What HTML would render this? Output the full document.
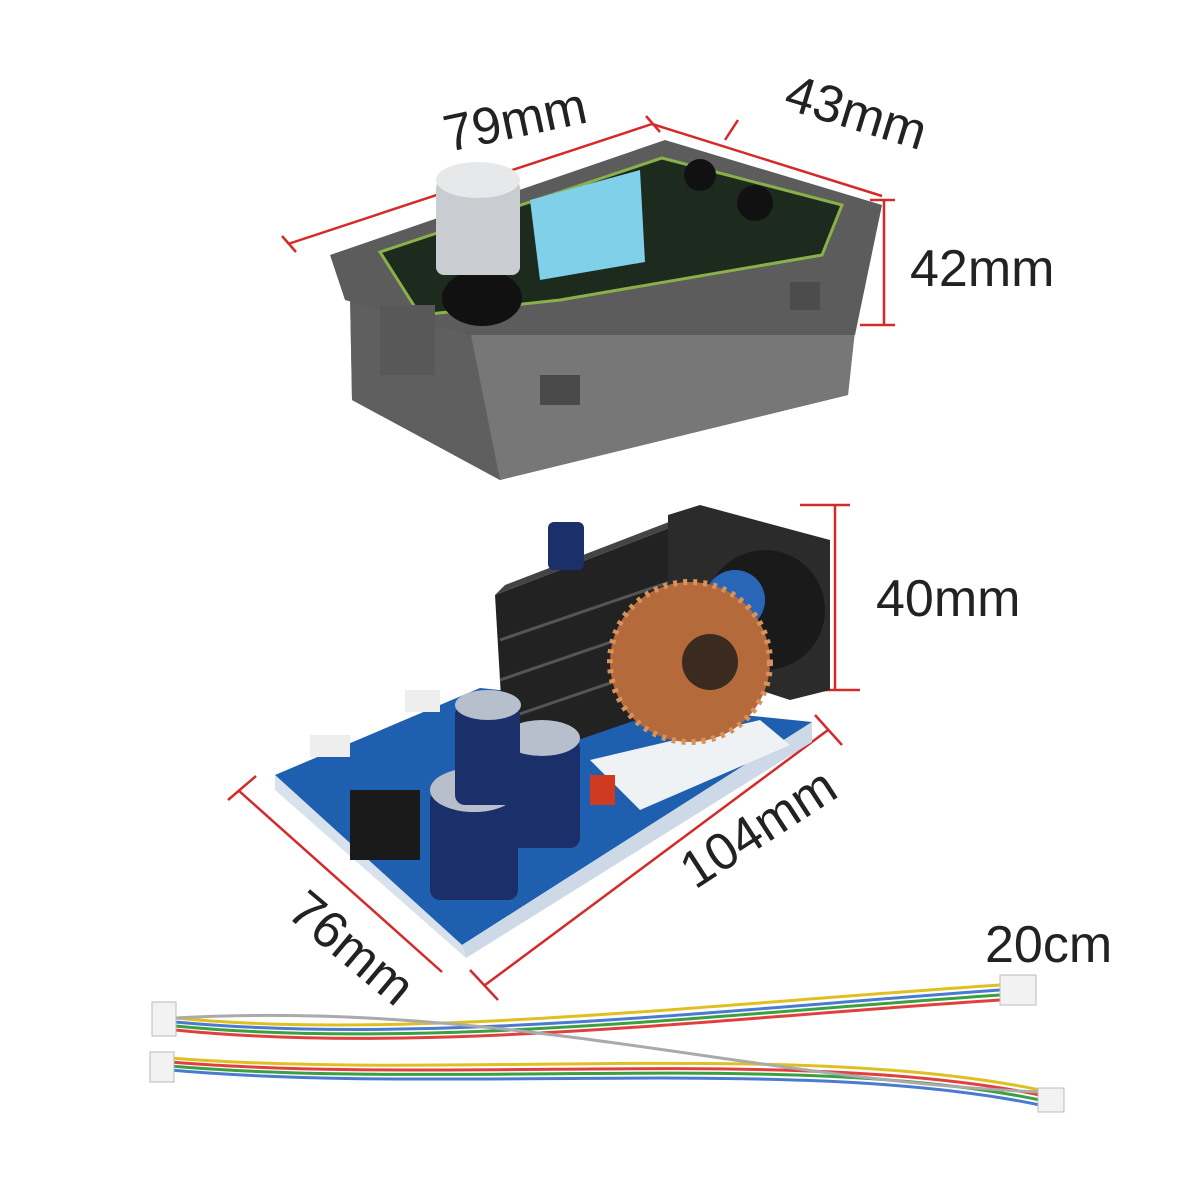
<!DOCTYPE html>
<html><head><meta charset="utf-8"><style>
html,body{margin:0;padding:0;background:#fff;}
svg{display:block}
text{font-family:"Liberation Sans",sans-serif;fill:#222;font-size:52px}
</style></head><body>
<svg width="1200" height="1200" viewBox="0 0 1200 1200" xmlns="http://www.w3.org/2000/svg">
<rect width="1200" height="1200" fill="#fff"/>
<g stroke="#d42a2a" stroke-width="2.5" fill="none">
<line x1="288" y1="244" x2="652" y2="124"/>
<line x1="282" y1="236" x2="296" y2="252"/>
<line x1="646" y1="116" x2="660" y2="132"/>
<line x1="652" y1="124" x2="882" y2="196"/>
<line x1="738" y1="120" x2="725" y2="140"/>
<line x1="884" y1="200" x2="884" y2="325"/>
<line x1="870" y1="200" x2="895" y2="200"/>
<line x1="860" y1="325" x2="895" y2="325"/>
<line x1="835" y1="505" x2="835" y2="690"/>
<line x1="800" y1="505" x2="850" y2="505"/>
<line x1="800" y1="690" x2="860" y2="690"/>
<line x1="485" y1="985" x2="828" y2="730"/>
<line x1="815" y1="715" x2="842" y2="745"/>
<line x1="470" y1="970" x2="498" y2="1000"/>
<line x1="238" y1="790" x2="442" y2="972"/>
<line x1="228" y1="800" x2="256" y2="776"/>
</g>
<polygon points="350,295 470,330 855,330 848,395 500,480 352,400" fill="#6e6e6e"/>
<polygon points="470,330 855,330 848,395 500,480" fill="#777"/>
<polygon points="350,295 470,330 500,480 352,400" fill="#5f5f5f"/>
<polygon points="330,255 665,140 882,205 855,335 470,335 345,300" fill="#5c5c5c"/>
<polygon points="380,252 662,158 842,205 822,255 560,300 420,315" fill="#1d2a1e" stroke="#8ab04a" stroke-width="3"/>
<polygon points="530,200 640,170 645,262 540,280" fill="#7fd0e8"/>
<rect x="380" y="305" width="55" height="70" fill="#585858"/>
<rect x="540" y="375" width="40" height="30" fill="#4a4a4a"/>
<rect x="790" y="282" width="30" height="28" fill="#4c4c4c"/>
<circle cx="700" cy="175" r="16" fill="#111"/>
<circle cx="755" cy="203" r="18" fill="#111"/>
<ellipse cx="482" cy="298" rx="40" ry="28" fill="#111"/>
<rect x="436" y="180" width="84" height="95" rx="8" fill="#c9ccd0"/>
<ellipse cx="478" cy="180" rx="42" ry="18" fill="#e6e8ea"/>
<polygon points="275,775 480,688 812,722 462,945" fill="#1f5fb0"/>
<polygon points="462,945 812,722 812,742 466,958" fill="#cdd9e6"/>
<polygon points="275,775 462,945 466,958 275,790" fill="#d8e2ec"/>
<polygon points="590,760 760,720 790,745 640,810" fill="#eef2f5"/>
<polygon points="495,595 690,520 695,700 505,765" fill="#222"/>
<polygon points="495,595 690,520 700,510 505,585" fill="#444"/>
<g stroke="#555" stroke-width="3"><line x1="500" y1="640" x2="690" y2="575"/><line x1="500" y1="680" x2="690" y2="615"/><line x1="502" y1="720" x2="692" y2="655"/></g>
<polygon points="668,515 700,505 830,540 830,690 790,700 668,660" fill="#2b2b2b"/>
<circle cx="765" cy="610" r="60" fill="#1a1a1a"/>
<circle cx="735" cy="600" r="30" fill="#2a66b8"/>
<circle cx="690" cy="662" r="80" fill="#b56a3c"/>
<circle cx="690" cy="662" r="80" fill="none" stroke="#d8925c" stroke-width="6" stroke-dasharray="4 6"/>
<circle cx="710" cy="662" r="28" fill="#3a2a20"/>
<rect x="430" y="790" width="88" height="110" rx="10" fill="#1b2f6b"/>
<ellipse cx="474" cy="790" rx="44" ry="22" fill="#b7bfcc"/>
<rect x="505" y="738" width="75" height="110" rx="10" fill="#1b2f6b"/>
<ellipse cx="542" cy="738" rx="38" ry="18" fill="#b7bfcc"/>
<rect x="455" y="705" width="65" height="100" rx="10" fill="#1b2f6b"/>
<ellipse cx="488" cy="705" rx="33" ry="15" fill="#b7bfcc"/>
<rect x="548" y="522" width="36" height="48" rx="6" fill="#1b2f6b"/>
<rect x="350" y="790" width="70" height="70" fill="#1a1a1a"/>
<rect x="310" y="735" width="40" height="22" fill="#eee"/>
<rect x="405" y="690" width="35" height="22" fill="#eee"/>
<rect x="590" y="775" width="25" height="30" fill="#d03a20"/>
<g fill="none" stroke-width="3">
<path d="M175,1018 C400,1040 700,1005 1000,985" stroke="#e0c020"/>
<path d="M175,1022 C420,1045 720,1010 1000,990" stroke="#4a7bd0"/>
<path d="M175,1026 C420,1050 720,1014 1000,995" stroke="#3aa040"/>
<path d="M175,1030 C420,1055 720,1018 1000,1000" stroke="#e04040"/>
<path d="M170,1058 C450,1080 800,1040 1040,1090" stroke="#e0c020"/>
<path d="M170,1062 C450,1085 800,1046 1040,1095" stroke="#e04040"/>
<path d="M170,1066 C450,1090 800,1050 1040,1100" stroke="#3aa040"/>
<path d="M170,1070 C450,1095 800,1055 1040,1105" stroke="#4a7bd0"/>
<path d="M175,1018 C500,1000 750,1080 1040,1092" stroke="#aaa"/>
</g>
<rect x="152" y="1002" width="24" height="34" fill="#f2f2f2" stroke="#bbb"/>
<rect x="150" y="1052" width="24" height="30" fill="#f2f2f2" stroke="#bbb"/>
<rect x="1000" y="975" width="36" height="30" fill="#f2f2f2" stroke="#bbb"/>
<rect x="1038" y="1088" width="26" height="24" fill="#f2f2f2" stroke="#bbb"/>
<text x="448" y="152" transform="rotate(-12 448 152)">79mm</text>
<text x="782" y="108" transform="rotate(17 782 108)">43mm</text>
<text x="910" y="286">42mm</text>
<text x="876" y="616">40mm</text>
<text x="695" y="890" transform="rotate(-33 695 890)">104mm</text>
<text x="285" y="915" transform="rotate(40 285 915)">76mm</text>
<text x="985" y="962">20cm</text>
</svg>
</body></html>
